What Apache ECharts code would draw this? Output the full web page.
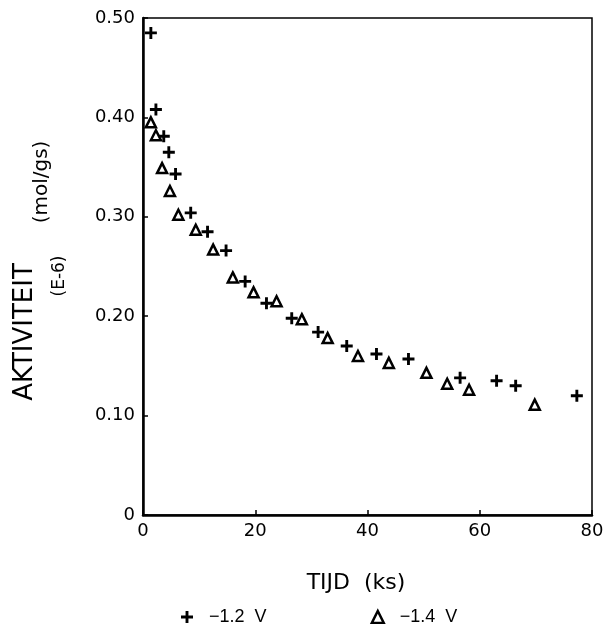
<!DOCTYPE html>
<html>
<head>
<meta charset="utf-8">
<script src="https://cdn.jsdelivr.net/npm/echarts@6/dist/echarts.min.js"></script>
<style>html,body{margin:0;padding:0;background:#fff}#c{width:607px;height:624px}</style>
</head>
<body>
<div id="c"></div>
<script>
// -1.2 V series (plus markers)
const plusX = [1.4, 2.3, 3.7, 4.6, 5.8, 8.5, 11.5, 14.8, 18.2, 22.0, 26.5, 31.2, 36.3, 41.6, 47.3, 56.5, 63.0, 66.4, 77.3];
const plusY = [0.485, 0.408, 0.381, 0.365, 0.343, 0.304, 0.285, 0.266, 0.235, 0.213, 0.198, 0.184, 0.170, 0.162, 0.157, 0.138, 0.135, 0.130, 0.120];
// -1.4 V series (triangle markers)
const triX = [1.4, 2.3, 3.4, 4.8, 6.3, 9.4, 12.5, 16.0, 19.7, 23.8, 28.3, 32.9, 38.3, 43.8, 50.5, 54.2, 58.1, 69.8];
const triY = [0.395, 0.382, 0.349, 0.326, 0.302, 0.287, 0.267, 0.239, 0.224, 0.215, 0.197, 0.178, 0.160, 0.153, 0.143, 0.132, 0.126, 0.111];
const seriesNames = ['\u22121.2  V', '\u22121.4  V'];
const xTicks = [0, 20, 40, 60, 80];
const yTicks = [0, 0.10, 0.20, 0.30, 0.40, 0.50];
const xTitle = 'TIJD  (ks)';
const yTitle = 'AKTIVITEIT';
const yUnit = '(mol/gs)';
const yScale = '(E-6)';

const FONT = 'DejaVu Sans, Liberation Sans, sans-serif';
const LFONT = 'Liberation Sans, Arial, sans-serif';
const plusPath = 'path://M3.8,0H6.2V3.8H10V6.2H6.2V10H3.8V6.2H0V3.8H3.8Z';
const zip = (xs, ys) => xs.map((x, i) => [x, ys[i]]);

const chart = echarts.init(document.getElementById('c'), null, {renderer: 'canvas'});
chart.setOption({
  animation: false,
  backgroundColor: '#fff',
  grid: {left: 143, right: 15, top: 18, bottom: 109, show: true, borderColor: '#000', borderWidth: 1.5},
  xAxis: {
    type: 'value', min: xTicks[0], max: xTicks[xTicks.length - 1], interval: 20,
    axisLine: {show: true, lineStyle: {color: '#000', width: 2.5}},
    axisTick: {show: true, inside: true, length: 5, lineStyle: {color: '#000', width: 1.5}},
    splitLine: {show: false},
    axisLabel: {color: '#000', fontFamily: FONT, fontSize: 18, margin: 7,
      formatter: v => xTicks.includes(v) ? String(v) : ''}
  },
  yAxis: {
    type: 'value', min: 0, max: 0.5, interval: 0.1,
    axisLine: {show: true, lineStyle: {color: '#000', width: 2.5}},
    axisTick: {show: true, inside: true, length: 5, lineStyle: {color: '#000', width: 1.5}},
    splitLine: {show: false},
    axisLabel: {color: '#000', fontFamily: FONT, fontSize: 18, margin: 8,
      formatter: v => Math.abs(v) < 1e-9 ? '0' : v.toFixed(2)}
  },
  legend: {
    left: 176, top: 603, itemWidth: 12, itemHeight: 12, itemGap: 104,
    data: [
      {name: seriesNames[0], icon: plusPath},
      {name: seriesNames[1], icon: 'triangle', itemStyle: {color: '#fff', borderColor: '#000', borderWidth: 2.5}}
    ],
    textStyle: {color: '#000', fontFamily: LFONT, fontSize: 18, padding: [0, 0, 0, 11]}
  },
  graphic: [
    {type: 'text', x: 356, y: 583, style: {text: xTitle, fontFamily: FONT, fontSize: 22, fill: '#000', textAlign: 'center', textVerticalAlign: 'middle'}},
    {type: 'text', x: 25, y: 332, rotation: Math.PI / 2, style: {text: yTitle, fontFamily: FONT, fontSize: 26, fill: '#000', textAlign: 'center', textVerticalAlign: 'middle'}},
    {type: 'text', x: 42, y: 182, rotation: Math.PI / 2, style: {text: yUnit, fontFamily: FONT, fontSize: 20, fill: '#000', textAlign: 'center', textVerticalAlign: 'middle'}},
    {type: 'text', x: 60, y: 276, rotation: Math.PI / 2, style: {text: yScale, fontFamily: FONT, fontSize: 17, fill: '#000', textAlign: 'center', textVerticalAlign: 'middle'}}
  ],
  series: [
    {name: seriesNames[0], type: 'scatter', data: zip(plusX, plusY), symbol: plusPath, symbolSize: 12,
     itemStyle: {color: '#000', opacity: 1}},
    {name: seriesNames[1], type: 'scatter', data: zip(triX, triY), symbol: 'triangle', symbolSize: 10,
     itemStyle: {color: '#fff', borderColor: '#000', borderWidth: 2.5, opacity: 1}}
  ]
});
</script>
</body>
</html>
